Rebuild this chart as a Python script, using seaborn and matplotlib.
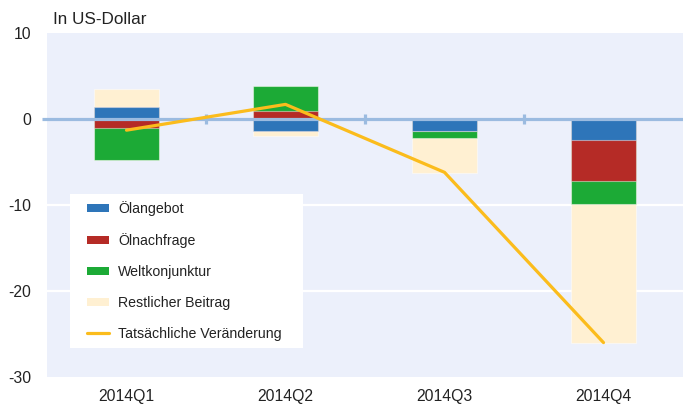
import numpy as np
import pandas as pd
import seaborn as sns
import matplotlib
matplotlib.use("Agg")
import matplotlib.pyplot as plt
from matplotlib.patches import Patch, Rectangle
from matplotlib.lines import Line2D

# Beiträge zur Ölpreisveränderung je Quartal (US-Dollar)
quarters = ["2014Q1", "2014Q2", "2014Q3", "2014Q4"]
oelangebot = [1.4, -1.4, -1.35, -2.45]
oelnachfrage = [-1.0, 0.9, 0.0, -4.8]
weltkonjunktur = [-3.8, 2.9, -0.9, -2.65]
restlicher_beitrag = [2.1, -0.6, -4.0, -16.1]
veraenderung = [-1.3, 1.7, -6.2, -26.0]

series_names = ["Ölangebot", "Ölnachfrage", "Weltkonjunktur", "Restlicher Beitrag"]
line_name = "Tatsächliche Veränderung"
y_ticks = [10, 0, -10, -20, -30]

colors = ["#2e75b9", "#b52b26", "#1caa36", "#fff0d2"]
line_color = "#fbbc1c"
bg_color = "#ecf0fb"
zero_color = "#9bbbe0"

sns.set_theme(style="white")
plt.rcParams["font.family"] = ["Liberation Sans", "DejaVu Sans"]

W, H = 683, 405
fig = plt.figure(figsize=(W / 100, H / 100), dpi=100)
ax = fig.add_axes([47 / W, 1 - 377 / H, 636 / W, 344 / H])
ax.set_facecolor(bg_color)
for s in ax.spines.values():
    s.set_visible(False)

values = np.array([oelangebot, oelnachfrage, weltkonjunktur, restlicher_beitrag])

# Diverging stack: positive and negative parts are accumulated separately.
pos = np.clip(values, 0, None).cumsum(axis=0)
neg = np.clip(values, None, 0).cumsum(axis=0)

for cum in (pos, neg):
    # Draw the outermost segment first, then overlay the inner ones.
    for i in range(len(series_names) - 1, -1, -1):
        df = pd.DataFrame({"Quartal": quarters, "Wert": cum[i]})
        sns.barplot(data=df, x="Quartal", y="Wert", color=colors[i],
                    saturation=1, width=0.405, errorbar=None, ax=ax,
                    edgecolor=(1, 1, 1, 0.45), linewidth=0.8, zorder=2)

# Horizontal grid lines
for yv in (-10, -20):
    ax.axhline(yv, color="white", lw=1.6, zorder=1)

# Zero line with separators between the quarters
ax.plot([-0.53, 3.5], [0, 0], color=zero_color, lw=2.3, zorder=3,
        clip_on=False, solid_capstyle="butt")
ax.vlines([0.5, 1.5, 2.5], -0.55, 0.55, color=zero_color, lw=2.3, zorder=3)

# Actual change
pos_x = np.arange(len(quarters))
sns.lineplot(x=pos_x, y=veraenderung, color=line_color, lw=2.3, ax=ax,
             zorder=4, legend=False)

ax.set_xlim(-0.5, 3.5)
ax.set_ylim(-30, 10)
ax.set_yticks(y_ticks)
ax.set_yticklabels([str(v) for v in y_ticks])
ax.set_xticks(pos_x)
ax.set_xticklabels(quarters)
ax.set_xlabel("")
ax.set_ylabel("")
ax.tick_params(axis="y", length=0, pad=11.5, labelsize=11.3, labelcolor="#222222")
ax.tick_params(axis="x", length=0, pad=9, labelsize=11.3, labelcolor="#222222")

fig.text(53 / W, 1 - 20 / H, "In US-Dollar", fontsize=12.3,
         color="#222222", va="center", ha="left")

# White legend panel
ax.add_patch(Rectangle(((70 - 47) / 636, (377 - 348) / 344), 233 / 636, 154 / 344,
                       transform=ax.transAxes, facecolor="white",
                       edgecolor="none", zorder=5))

handles = [Patch(facecolor=c, edgecolor="none") for c in colors]
handles.append(Line2D([0], [0], color=line_color, lw=2.3))
leg = ax.legend(handles, series_names + [line_name],
                loc="upper left",
                bbox_to_anchor=((87 - 47) / 636, (377 - 201) / 344),
                fontsize=10.2, frameon=False,
                handlelength=1.52, handleheight=0.55, handletextpad=0.68,
                labelspacing=1.2, borderpad=0, borderaxespad=0)
for t in leg.get_texts():
    t.set_color("#222222")
leg.set_zorder(6)

fig.savefig("out.png", dpi=100)
